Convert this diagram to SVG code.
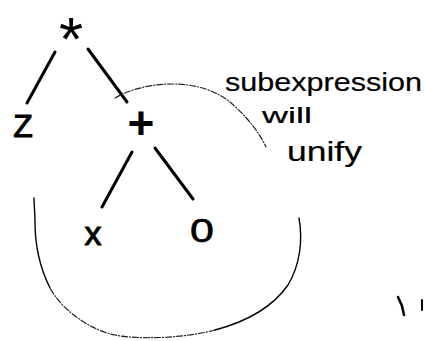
<svg xmlns="http://www.w3.org/2000/svg" width="424" height="341" viewBox="0 0 424 341">
<style>
.ink{fill:none;stroke:#000;stroke-linecap:round;stroke-linejoin:round}
.edge{stroke-width:3}
.faint{stroke-width:1.2;stroke:#222;stroke-dasharray:6 2 1 2}
.lbl{font-family:"Liberation Sans",Arial,sans-serif;fill:#000;text-anchor:middle}
.hand{font-family:"Liberation Sans",Arial,sans-serif;fill:#000;stroke:#000;stroke-width:0.2}
</style>
<rect width="424" height="341" fill="#fff"/>
<g id="connectors">
<path class="ink edge" d="M55,52 L27,103"/>
<path class="ink edge" d="M88,49 L127,102"/>
<path class="ink edge" d="M132,152 L102,207"/>
<path class="ink edge" d="M155,148 L193,199"/>
</g>
<g id="circle">
<path class="ink faint" d="M115,98 C128,90 150,84 172,84 C195,84 215,90 230,102 C245,115 258,130 266,147"/>
<path class="ink" stroke-width="1.4" d="M299,218 C303,240 300,265 288,285 C272,308 245,322 215,330"/>
<path class="ink faint" d="M215,330 C185,338 140,340 115,335 C90,330 62,310 50,288"/>
<path class="ink" stroke-width="1.4" d="M50,288 C40,268 35,245 35,222 C35,212 34,205 34,198"/>
</g>
<g id="node-times"><text class="lbl" x="71" y="60" font-size="62">*</text></g>
<g id="node-z"><text class="lbl" x="23" y="137" font-size="32" stroke="#000" stroke-width="1">Z</text></g>
<g id="node-plus"><text class="lbl" x="141" y="139" font-size="46" font-weight="bold">+</text></g>
<g id="node-x"><text class="lbl" x="93" y="245" font-size="34" stroke="#000" stroke-width="1">x</text></g>
<g id="node-zero"><text class="lbl" x="202" y="242" font-size="33" transform="translate(202,0) scale(1.3,1) translate(-202,0)" stroke="#000" stroke-width="0.6">0</text></g>
<g id="note">
<text class="hand" x="225" y="91" font-size="25" textLength="197" lengthAdjust="spacingAndGlyphs">subexpression</text>
<text class="hand" x="262" y="123" font-size="22" textLength="50" lengthAdjust="spacingAndGlyphs">will</text>
<text class="hand" x="287" y="161" font-size="28" textLength="75" lengthAdjust="spacingAndGlyphs">unify</text>
</g>
<g id="marks">
<path class="ink" stroke-width="2.5" d="M398,297 L402,306 L404,315"/>
<path class="ink" stroke-width="2" d="M422,300 L422,310"/>
</g>
</svg>
